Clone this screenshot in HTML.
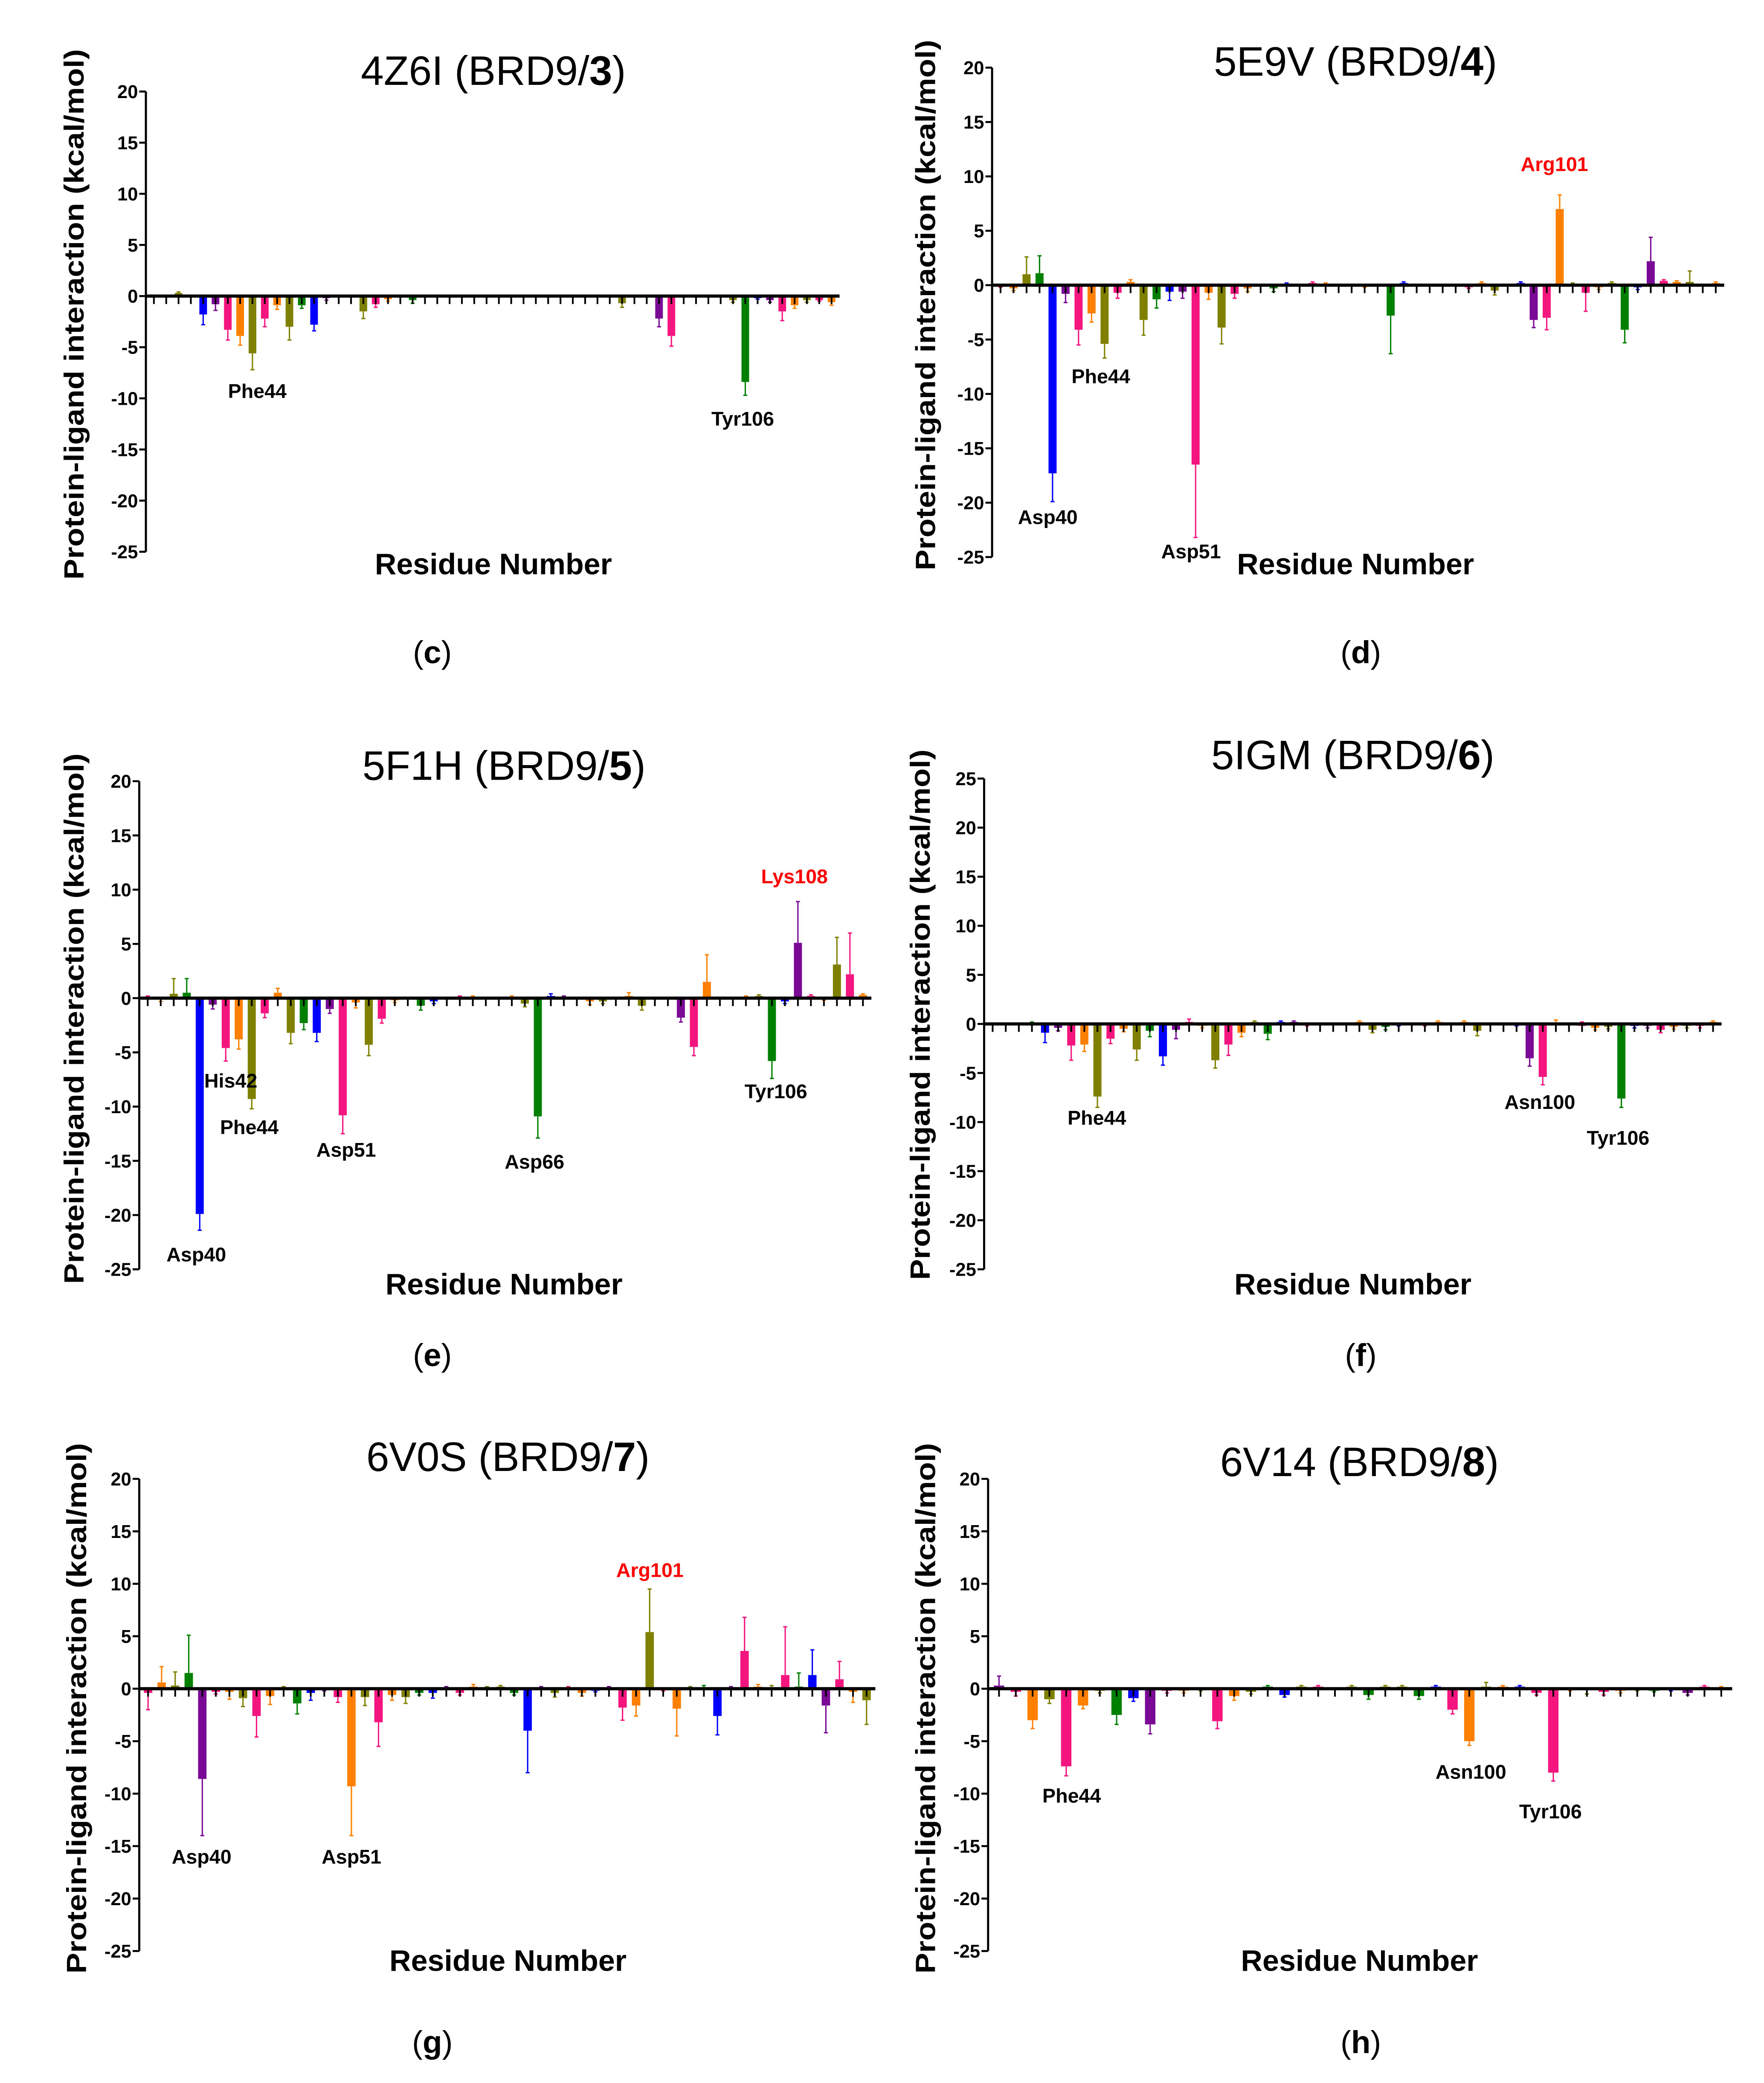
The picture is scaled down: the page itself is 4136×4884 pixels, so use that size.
<!DOCTYPE html>
<html><head><meta charset="utf-8"><style>
html,body{margin:0;padding:0;background:#fff;}
svg{display:block;}
text{font-family:"Liberation Sans",sans-serif;}
</style></head><body>
<svg id="fig" xmlns="http://www.w3.org/2000/svg" width="4136" height="4884" viewBox="0 0 1330 1570.5" preserveAspectRatio="none">
<rect x="0" y="0" width="1330" height="1571" fill="#fff"/>
</svg>
<script>
// ---- data (sparse: residue slot index, mean value, error-bar end, color code) ----
const c_idx=[2,4,5,6,7,8,9,10,11,12,13,14,17,18,19,21,38,41,42,47,48,49,50,51,52,53,54,55];
const c_val=[0.3,-1.8,-0.8,-3.3,-3.9,-5.6,-2.2,-0.9,-3.0,-0.9,-2.8,-0.2,-1.5,-0.8,-0.3,-0.4,-0.7,-2.2,-3.9,-0.4,-8.4,-0.2,-0.4,-1.5,-0.9,-0.4,-0.4,-0.6];
const c_err=[0.4,-2.8,-1.4,-4.3,-4.8,-7.2,-3.0,-1.3,-4.3,-1.2,-3.4,-0.4,-2.2,-1.1,-0.5,-0.7,-1.1,-3.0,-4.9,-0.6,-9.7,-0.3,-0.6,-2.4,-1.2,-0.6,-0.5,-0.9];
const c_col="lbupolpolgbulpoglupl"+"gbupolpo";

const d_idx=[0,1,2,3,4,5,6,7,8,9,10,11,12,13,14,15,16,17,18,19,21,22,24,25,28,30,31,36,37,38,40,41,42,43,44,45,46,47,48,49,50,51,52,53,55];
const d_val=[-0.1,-0.3,1.0,1.1,-17.3,-0.8,-4.1,-2.6,-5.4,-0.7,0.3,-3.2,-1.3,-0.6,-0.6,-16.5,-0.7,-3.9,-0.8,-0.3,-0.3,0.1,0.2,0.1,-0.1,-2.8,0.2,-0.2,0.2,-0.5,0.2,-3.2,-3.0,7.0,0.1,-0.7,-0.2,0.2,-4.1,-0.2,2.2,0.4,0.3,0.3,0.2];
const d_err=[-0.2,-0.5,2.6,2.7,-19.9,-1.6,-5.5,-3.4,-6.7,-1.2,0.5,-4.6,-2.1,-1.4,-1.2,-23.2,-1.3,-5.4,-1.2,-0.6,-0.6,0.2,0.3,0.2,-0.2,-6.3,0.3,-0.3,0.3,-0.9,0.3,-3.9,-4.1,8.3,0.2,-2.4,-0.4,0.3,-5.3,-0.4,4.4,0.5,0.4,1.3,0.3];
const d_col="polgbupolpolgbupolpo"+"gbpoogbpolbupolpolgbupolo";

const e_idx=[0,1,2,3,4,5,6,7,8,9,10,11,12,13,14,15,16,17,18,19,21,22,24,25,28,29,30,31,32,34,35,37,38,41,42,43,46,47,48,49,50,51,52,53,54,55];
const e_val=[0.1,0.1,0.4,0.5,-19.9,-0.6,-4.6,-3.8,-9.3,-1.4,0.5,-3.2,-2.3,-3.2,-1.0,-10.8,-0.4,-4.3,-1.9,-0.2,-0.7,-0.3,0.1,0.1,0.1,-0.5,-10.9,0.2,0.1,-0.3,-0.3,0.2,-0.7,-1.8,-4.5,1.5,0.1,0.2,-5.8,-0.3,5.1,0.2,-0.1,3.1,2.2,0.3];
const e_err=[0.2,-0.3,1.8,1.8,-21.4,-1.0,-5.8,-4.7,-10.2,-1.8,0.9,-4.2,-2.9,-4.0,-1.4,-12.5,-0.9,-5.3,-2.3,-0.4,-1.1,-0.5,0.2,0.2,0.2,-0.8,-12.9,0.4,0.2,-0.6,-0.5,0.5,-1.1,-2.2,-5.3,4.0,0.2,0.3,-7.4,-0.5,8.9,0.3,-0.2,5.6,6.0,0.4];
const e_col="polgbupolpolgbupolpo"+"gbpoolgbuololupoolgbupolpo";

const f_idx=[3,4,5,6,7,8,9,10,11,12,13,14,15,16,17,18,19,20,21,22,23,24,28,29,30,31,33,34,36,37,40,41,42,43,45,46,47,48,49,50,51,52,53,54,55];
const f_val=[0.1,-0.9,-0.4,-2.2,-2.1,-7.4,-1.5,-0.5,-2.6,-0.7,-3.3,-0.6,0.2,-0.2,-3.7,-2.1,-0.9,0.2,-1.0,0.2,0.2,-0.1,0.2,-0.6,-0.3,-0.1,-0.1,0.2,0.2,-0.7,-0.1,-3.5,-5.4,0.1,-0.2,-0.4,-0.3,-7.6,-0.2,-0.2,-0.6,-0.3,-0.2,-0.2,0.2];
const f_err=[0.2,-1.9,-0.7,-3.7,-2.8,-8.5,-2.0,-0.8,-3.7,-1.3,-4.2,-1.5,0.5,-0.4,-4.5,-3.2,-1.3,0.3,-1.6,0.3,0.3,-0.2,0.3,-0.9,-0.6,-0.2,-0.2,0.3,0.3,-1.2,-0.2,-4.3,-6.2,0.4,0.2,-0.6,-0.5,-8.5,-0.4,-0.4,-0.9,-0.5,-0.4,-0.4,0.3];
const f_col="gbupolpolgbupolpolgbup"+"olgbpoolbupopolgbupolpo";

const g_val=[-0.4,0.6,0.3,1.5,-8.6,-0.3,-0.3,-0.9,-2.6,-0.7,0.1,-1.4,-0.4,-0.1,-0.8,-9.3,-0.8,-3.2,-0.6,-0.8,-0.4,-0.4,0.1,-0.4,0.2,0.1,0.2,-0.4,-4.0,0.1,-0.4,0.1,-0.4,-0.2,0.1,-1.8,-1.6,5.4,-0.1,-1.9,0.1,0.1,-2.6,0.1,3.6,0.2,0.1,1.3,0.2,1.3,-1.6,0.9,-0.3,-1.1];
const g_err=[-2.0,2.1,1.6,5.1,-14.0,-0.5,-1.0,-1.7,-4.6,-1.5,0.2,-2.4,-1.1,-0.2,-1.3,-14.0,-1.6,-5.5,-1.1,-1.4,-0.6,-0.9,0.2,-0.6,0.4,0.2,0.3,-0.6,-8.0,0.2,-0.8,0.2,-0.7,-0.3,0.2,-3.0,-2.6,9.5,-0.2,-4.5,0.2,0.3,-4.4,0.2,6.8,0.4,0.3,5.9,1.5,3.7,-4.2,2.6,-1.3,-3.4];
const g_col="polgupolpolgbupolpol"+"gbupollgbulpobupolpol"+"gbupolpgbupol";

const h_val=[0.3,-0.3,-3.0,-1.0,-7.4,-1.6,-0.2,-2.5,-0.9,-3.4,-0.2,-0.2,-0.1,-3.1,-0.7,-0.3,0.2,-0.6,0.2,0.2,0,0.2,-0.6,0.2,0.2,-0.7,0.2,-2.0,-5.0,0.2,0.2,0.2,-0.4,-8.0,-0.1,-0.1,-0.3,-0.2,-0.1,-0.2,-0.1,-0.4,0.2,0.1];
const h_err=[1.2,-0.7,-3.8,-1.4,-8.3,-1.9,-0.4,-3.4,-1.2,-4.3,-0.4,-0.4,-0.2,-3.8,-1.1,-0.5,0.3,-0.8,0.3,0.3,0,0.3,-1.0,0.3,0.3,-1.0,0.3,-2.4,-5.4,0.6,0.3,0.3,-0.6,-8.8,-0.2,-0.5,-0.6,-0.4,-0.2,-0.3,-0.2,-0.6,0.3,0.2];
const h_col="upolpolgbupolpolgblpolgllgbpolobppolpolgbupo";

const yTicks20=[20,15,10,5,0,-5,-10,-15,-20,-25];
const yTicks25=[25,20,15,10,5,0,-5,-10,-15,-20,-25];

const COLORS={p:"#f5157f",o:"#ff8000",l:"#808000",g:"#008000",b:"#0000ff",u:"#7a0a96"};
const NS="http://www.w3.org/2000/svg";
const svg=document.getElementById("fig");
function mk(parent,tag,attrs,txt){const el=document.createElementNS(NS,tag);for(const k in attrs)el.setAttribute(k,attrs[k]);if(txt!==undefined)el.textContent=txt;parent.appendChild(el);return el;}
function seq(n){const a=[];for(let i=0;i<n;i++)a.push(i);return a;}

const panels=[
 {key:"c",title:"4Z6I (BRD9/",num:"3",x0:110,x1:633,yTop:69,yBot:416,vTop:20,ticks:yTicks20,N:56,idx:c_idx,val:c_val,err:c_err,col:c_col,tx:372,ty:64,ylx:55,ylc:237,xlY:433,cap:"c",capX:326,capY:500,
  labels:[["Phe44",194,300,0],["Tyr106",560,321,0]]},
 {key:"d",title:"5E9V (BRD9/",num:"4",x0:748,x1:1300,yTop:51,yBot:420,vTop:20,ticks:yTicks20,N:56,idx:d_idx,val:d_val,err:d_err,col:d_col,tx:1022,ty:57,ylx:697,ylc:230,xlY:433,cap:"d",capX:1026,capY:500,
  labels:[["Arg101",1172,129,1],["Phe44",830,289,0],["Asp40",790,395,0],["Asp51",898,421,0]]},
 {key:"e",title:"5F1H (BRD9/",num:"5",x0:105,x1:657,yTop:589,yBot:957,vTop:20,ticks:yTicks20,N:56,idx:e_idx,val:e_val,err:e_err,col:e_col,tx:380,ty:588,ylx:55,ylc:768,xlY:976,cap:"e",capX:326,capY:1030,
  labels:[["Lys108",599,666,1],["His42",174,820,0],["Phe44",188,855,0],["Asp51",261,872,0],["Asp66",403,881,0],["Tyr106",585,828,0],["Asp40",148,951,0]]},
 {key:"f",title:"5IGM (BRD9/",num:"6",x0:742,x1:1298,yTop:587,yBot:957,vTop:25,ticks:yTicks25,N:56,idx:f_idx,val:f_val,err:f_err,col:f_col,tx:1020,ty:580,ylx:693,ylc:765,xlY:976,cap:"f",capX:1026,capY:1030,
  labels:[["Phe44",827,848,0],["Asn100",1161,836,0],["Tyr106",1220,863,0]]},
 {key:"g",title:"6V0S (BRD9/",num:"7",x0:105,x1:660,yTop:1115,yBot:1471,vTop:20,ticks:yTicks20,N:54,idx:seq(54),val:g_val,err:g_err,col:g_col,tx:383,ty:1109,ylx:57,ylc:1288,xlY:1486,cap:"g",capX:326,capY:1548,
  labels:[["Arg101",490,1189,1],["Asp40",152,1405,0],["Asp51",265,1405,0]]},
 {key:"h",title:"6V14 (BRD9/",num:"8",x0:745,x1:1306,yTop:1115,yBot:1471,vTop:20,ticks:yTicks20,N:44,idx:seq(44),val:h_val,err:h_err,col:h_col,tx:1025,ty:1113,ylx:697,ylc:1288,xlY:1486,cap:"h",capX:1026,capY:1548,
  labels:[["Phe44",808,1359,0],["Asn100",1109,1341,0],["Tyr106",1169,1371,0]]}
];

panels.forEach(P=>{
  const g=mk(svg,"g",{});
  
  
  const vBot=-25;
  const y=v=>P.yTop+(P.vTop-v)*(P.yBot-P.yTop)/(P.vTop-vBot);
  const w=(P.x1-P.x0)/(P.N+0.3);
  const x=i=>P.x0+w*(i+0.65);
  const t=mk(g,"text",{x:P.tx,y:P.ty,"text-anchor":"middle","font-size":31,fill:"#000"});
  
  
  const s1=document.createElementNS(NS,"tspan");s1.textContent=P.title;t.appendChild(s1);
  const s2=document.createElementNS(NS,"tspan");s2.setAttribute("font-weight","bold");s2.textContent=P.num;t.appendChild(s2);
  const s3=document.createElementNS(NS,"tspan");s3.textContent=")";t.appendChild(s3);
  const ya=mk(g,"line",{x1:P.x0,y1:y(P.vTop),x2:P.x0,y2:y(vBot),stroke:"#000","stroke-width":1.6});
  
  
  P.ticks.forEach(v=>{
    mk(g,"line",{x1:P.x0-5,y1:y(v),x2:P.x0,y2:y(v),stroke:"#000","stroke-width":1.5});
    const tl=mk(g,"text",{x:P.x0-6,y:y(v)+5,"text-anchor":"end","font-size":14,"font-weight":"bold",fill:"#000"},String(v));
    
    
  });
  const yl=mk(g,"text",{x:0,y:0,transform:`translate(${P.ylx+8},${P.ylc}) rotate(-90)`,"text-anchor":"middle","font-size":21,"font-weight":"bold",fill:"#000",textLength:400,lengthAdjust:"spacingAndGlyphs"},"Protein-ligand interaction  (kcal/mol)");
  
  
  P.idx.forEach((i,k)=>{
    const v=P.val[k],e=P.err[k],c=COLORS[P.col[k]]||"#888";
    const cx=x(i),bw=w*0.62;
    const y0=y(0),yv=y(v);
    const r=mk(g,"rect",{x:cx-bw/2,y:Math.min(y0,yv),width:bw,height:Math.max(0.6,Math.abs(yv-y0)),fill:c});
    
    
    const ye=y(e);
    mk(g,"line",{x1:cx,y1:yv,x2:cx,y2:ye,stroke:c,"stroke-width":1});
    mk(g,"line",{x1:cx-1.5,y1:ye,x2:cx+1.5,y2:ye,stroke:c,"stroke-width":1});
  });
  const xa=mk(g,"line",{x1:P.x0,y1:y(0),x2:P.x1,y2:y(0),stroke:"#000","stroke-width":2.4});
  
  
  for(let i=0;i<P.N;i++) mk(g,"line",{x1:x(i),y1:y(0),x2:x(i),y2:y(0)+6,stroke:"#000","stroke-width":1.3});
  P.labels.forEach(L=>{
    const lt=mk(g,"text",{x:L[1],y:L[2],"text-anchor":"middle","font-size":15,"font-weight":"bold",fill:L[3]?"#ff0000":"#000"},L[0]);
    
    
  });
  const xl=mk(g,"text",{x:P.tx,y:P.xlY,"text-anchor":"middle","font-size":22.5,"font-weight":"bold",fill:"#000"},"Residue Number");
  
  
  const cp=mk(g,"text",{x:P.capX,y:P.capY,"text-anchor":"middle","font-size":24,fill:"#000","font-family":"Liberation Serif, serif"});
  
  
  const a=document.createElementNS(NS,"tspan");a.textContent="(";cp.appendChild(a);
  const b=document.createElementNS(NS,"tspan");b.setAttribute("font-weight","bold");b.textContent=P.cap;cp.appendChild(b);
  const c2=document.createElementNS(NS,"tspan");c2.textContent=")";cp.appendChild(c2);
});
</script>
</body></html>
